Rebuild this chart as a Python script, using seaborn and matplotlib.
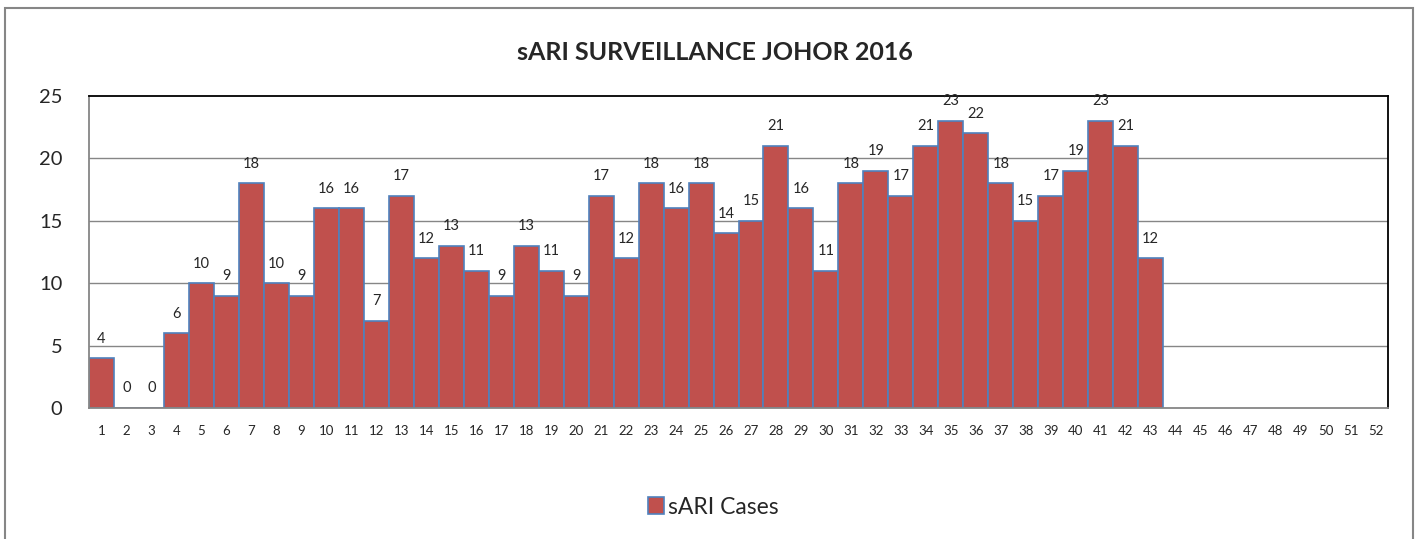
import matplotlib
matplotlib.use('Agg')
import matplotlib.pyplot as plt
from matplotlib.patches import Rectangle, Patch
import seaborn as sns
import pandas as pd

# Weekly sARI cases (weeks 1-43 reported, 44-52 empty)
weeks = list(range(1, 44))
cases = [4, 0, 0, 6, 10, 9, 18, 10, 9, 16, 16, 7, 17, 12, 13, 11, 9, 13, 11, 9,
         17, 12, 18, 16, 18, 14, 15, 21, 16, 11, 18, 19, 17, 21, 23, 22, 18, 15,
         17, 19, 23, 21, 12]
all_weeks = [str(w) for w in range(1, 53)]
y_ticks = [0, 5, 10, 15, 20, 25]

bar_color = '#C0504D'
edge_color = '#4F81BD'
grid_color = '#868686'

sns.set_style('white')
plt.rcParams['font.family'] = ['Lato', 'DejaVu Sans']

df = pd.DataFrame({'week': [str(w) for w in weeks], 'cases': cases})

fig = plt.figure(figsize=(14.21, 5.39), dpi=100)
ax = fig.add_axes([89 / 1421, 1 - 408 / 539, (1388 - 89) / 1421, (408 - 96) / 539])

sns.barplot(data=df, x='week', y='cases', order=all_weeks, color=bar_color,
            saturation=1, width=1.0, edgecolor=edge_color, linewidth=1.2, ax=ax)

ax.bar_label(ax.containers[0], labels=[str(c) for c in cases], padding=9,
             fontsize=10.5)

ax.set_ylim(0, 25)
ax.set_xlim(-0.5, 51.5)
ax.set_yticks(y_ticks)
ax.set_yticklabels([str(t) for t in y_ticks], fontsize=14.5)
ax.tick_params(axis='x', labelsize=9.5, length=0, pad=12)
ax.tick_params(axis='y', length=0, pad=19)
for t in y_ticks[1:-1]:
    ax.axhline(t, color=grid_color, linewidth=1, zorder=0)
ax.set_xlabel('')
ax.set_ylabel('')

ax.spines['left'].set_color(grid_color)
ax.spines['bottom'].set_color(grid_color)
ax.spines['top'].set_color('black')
ax.spines['right'].set_color('black')
for s in ax.spines.values():
    s.set_linewidth(1.3)
    s.set_visible(True)

fig.text(0.503, 1 - 52 / 539, 'sARI SURVEILLANCE JOHOR 2016', ha='center',
         va='center', fontsize=18, fontweight='bold')

handle = Patch(facecolor=bar_color, edgecolor=edge_color, linewidth=1.2)
fig.legend([handle], ['sARI Cases'], loc='center', bbox_to_anchor=(0.502, 1 - 507 / 539),
           frameon=False, fontsize=16.5, handlelength=0.7, handleheight=0.7,
           handletextpad=0.2)

# outer chart border
fig.patches.append(Rectangle((5 / 1421, -0.02), (1413 - 5) / 1421, 1.02 - 8 / 539,
                             transform=fig.transFigure, fill=False,
                             edgecolor=grid_color, linewidth=1.5))

fig.savefig('out.png', dpi=100)
